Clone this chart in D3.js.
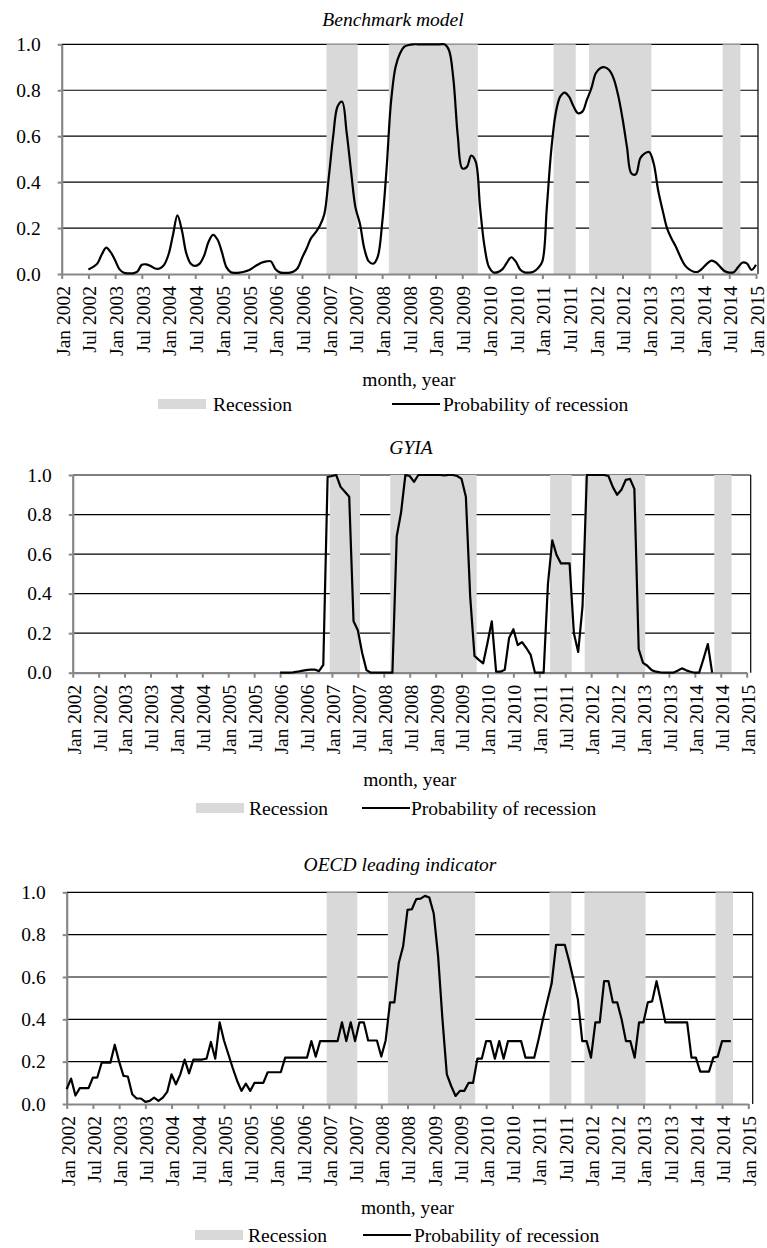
<!DOCTYPE html>
<html>
<head>
<meta charset="utf-8">
<script src="https://cdn.jsdelivr.net/npm/d3@7/dist/d3.min.js"></script>
<style>
  html, body { margin: 0; padding: 0; background: #ffffff; }
  svg { display: block; }
  text { font-family: "Liberation Serif", "DejaVu Serif", serif; fill: #000; }
</style>
</head>
<body>
<svg id="chart" width="767" height="1248"></svg>
<script>
// Month index 0 = Jan 2002, 156 = Jan 2015
const tickMonths = d3.range(0, 157, 6);
const tickLabels = [
  "Jan 2002", "Jul 2002", "Jan 2003", "Jul 2003", "Jan 2004", "Jul 2004",
  "Jan 2005", "Jul 2005", "Jan 2006", "Jul 2006", "Jan 2007", "Jul 2007",
  "Jan 2008", "Jul 2008", "Jan 2009", "Jul 2009", "Jan 2010", "Jul 2010",
  "Jan 2011", "Jul 2011", "Jan 2012", "Jul 2012", "Jan 2013", "Jul 2013",
  "Jan 2014", "Jul 2014", "Jan 2015"
];
const yTicks = [0, 0.2, 0.4, 0.6, 0.8, 1.0];

// Recession periods (first and last month index, inclusive)
const recessionStart = [60, 74, 111, 119, 149];
const recessionEnd   = [66, 93, 115, 132, 152];

// Benchmark model: monthly probability from Jul 2002
const benchmarkStart = 6;
const benchmarkProb = [
  0.02, 0.03, 0.045, 0.085, 0.115, 0.095, 0.06, 0.02, 0.005, 0.003,
  0.003, 0.01, 0.04, 0.042, 0.035, 0.024, 0.024, 0.04, 0.085, 0.17,
  0.255, 0.19, 0.09, 0.045, 0.035, 0.045, 0.08, 0.14, 0.17, 0.15,
  0.095, 0.03, 0.008, 0.005, 0.006, 0.01, 0.016, 0.028, 0.04, 0.05,
  0.055, 0.055, 0.022, 0.007, 0.005, 0.005, 0.01, 0.025, 0.07, 0.11,
  0.155, 0.18, 0.21, 0.26, 0.42, 0.6, 0.73, 0.75, 0.62, 0.45,
  0.29, 0.22, 0.11, 0.055, 0.045, 0.075, 0.22, 0.46, 0.75, 0.9,
  0.96, 0.99, 0.997, 1.0, 1.0, 1.0, 1.0, 1.0, 1.0, 1.0,
  1.0, 0.975, 0.85, 0.6, 0.46, 0.465, 0.515, 0.49, 0.29, 0.12,
  0.03, 0.007, 0.008, 0.02, 0.048, 0.073, 0.055, 0.02, 0.007, 0.006,
  0.01, 0.025, 0.055, 0.29, 0.54, 0.7, 0.772, 0.79, 0.772, 0.73,
  0.7, 0.707, 0.758, 0.808, 0.874, 0.896, 0.9, 0.888, 0.852, 0.78,
  0.678, 0.554, 0.438, 0.434, 0.504, 0.525, 0.531, 0.482, 0.366, 0.279,
  0.2, 0.155, 0.119, 0.075, 0.039, 0.02, 0.01, 0.01, 0.025, 0.045,
  0.058, 0.05, 0.03, 0.012, 0.006, 0.008, 0.03, 0.05, 0.045, 0.018,
  0.04
];

// GYIA: monthly probability from Jan 2006
const gyiaStart = 48;
const gyiaProb = [
  0, 0, 0, 0.002, 0.005, 0.009, 0.013, 0.016, 0.016, 0.008,
  0.04, 0.99, 0.995, 1.0, 0.94, 0.915, 0.89, 0.26, 0.215, 0.1,
  0.013, 0, 0, 0, 0, 0, 0, 0.69, 0.81, 1.0,
  0.995, 0.965, 1.0, 1.0, 1.0, 1.0, 1.0, 1.0, 0.998, 1.0,
  1.0, 0.995, 0.98, 0.89, 0.385, 0.085, 0.065, 0.047, 0.15, 0.26,
  0.005, 0.005, 0.015, 0.175, 0.22, 0.14, 0.155, 0.125, 0.09, 0,
  0, 0, 0.45, 0.67, 0.595, 0.553, 0.553, 0.553, 0.2, 0.105,
  0.335, 1.0, 1.0, 1.0, 1.0, 1.0, 0.995, 0.94, 0.9, 0.925,
  0.975, 0.98, 0.93, 0.12, 0.05, 0.035, 0.013, 0.005, 0.002, 0,
  0, 0, 0.01, 0.022, 0.012, 0.005, 0, 0, 0.07, 0.145,
  0
];

// OECD leading indicator: monthly probability from Jan 2002
const oecdStart = 0;
const oecdProb = [
  0.07, 0.12, 0.04, 0.075, 0.075, 0.075, 0.125, 0.125, 0.195, 0.195,
  0.195, 0.28, 0.2, 0.133, 0.13, 0.046, 0.026, 0.026, 0.01, 0.015,
  0.03, 0.015, 0.03, 0.057, 0.14, 0.093, 0.14, 0.21, 0.145, 0.21,
  0.21, 0.21, 0.214, 0.293, 0.214, 0.386, 0.3, 0.235, 0.17, 0.11,
  0.062, 0.096, 0.062, 0.1, 0.1, 0.1, 0.15, 0.15, 0.15, 0.15,
  0.219, 0.219, 0.219, 0.219, 0.219, 0.219, 0.297, 0.224, 0.297, 0.297,
  0.297, 0.297, 0.297, 0.386, 0.297, 0.386, 0.297, 0.386, 0.386, 0.3,
  0.3, 0.3, 0.224, 0.3, 0.48, 0.48, 0.666, 0.745, 0.917, 0.92,
  0.968, 0.97, 0.983, 0.975, 0.9, 0.7, 0.4, 0.14, 0.085, 0.038,
  0.062, 0.062, 0.1, 0.1, 0.214, 0.214, 0.297, 0.297, 0.214, 0.297,
  0.214, 0.297, 0.297, 0.297, 0.297, 0.219, 0.219, 0.219, 0.305, 0.4,
  0.485, 0.57, 0.752, 0.752, 0.752, 0.674, 0.587, 0.493, 0.297, 0.297,
  0.219, 0.386, 0.386, 0.58, 0.58, 0.48, 0.48, 0.4, 0.297, 0.297,
  0.219, 0.386, 0.386, 0.48, 0.485, 0.58, 0.485, 0.386, 0.386, 0.386,
  0.386, 0.386, 0.386, 0.219, 0.219, 0.153, 0.153, 0.153, 0.219, 0.224,
  0.297, 0.297, 0.297
];

const panels = [
  { title: "Benchmark model", start: benchmarkStart, values: benchmarkProb, smooth: true,
    left: 61.7, right: 756, border: 758, top: 44.3, bottom: 274, titleX: 393, titleY: 26,
    axisTitleY: 386, legendY: 404, boxX: 158, boxText: 213, lineX: 392, lineText: 443 },
  { title: "GYIA", start: gyiaStart, values: gyiaProb, smooth: false,
    left: 72.7, right: 746.7, border: 750.7, top: 475, bottom: 672.7, titleX: 411, titleY: 454,
    axisTitleY: 786, legendY: 808, boxX: 196, boxText: 249, lineX: 362, lineText: 411 },
  { title: "OECD leading indicator", start: oecdStart, values: oecdProb, smooth: false,
    left: 66.7, right: 748.3, border: 752.7, top: 892.3, bottom: 1104, titleX: 400, titleY: 871,
    axisTitleY: 1214, legendY: 1235, boxX: 195, boxText: 248, lineX: 363, lineText: 414 }
];

const FAMILY = '"Liberation Serif", "DejaVu Serif", serif';
const svg = d3.select("#chart");
svg.append("rect").attr("width", 767).attr("height", 1248).attr("fill", "#fff");

const AXIS_GREY = "#878787";
const BAND_GREY = "#d9d9d9";
const FONT = 19.5;

panels.forEach(p => {
  const g = svg.append("g").attr("font-family", FAMILY);
  const x = d3.scaleLinear().domain([0, 156]).range([p.left, p.right]);
  const y = d3.scaleLinear().domain([0, 1]).range([p.bottom, p.top]);

  // horizontal gridlines
  g.append("g").selectAll("line")
    .data(yTicks.filter(v => v > 0))
    .join("line")
    .attr("x1", p.left).attr("x2", p.border)
    .attr("y1", d => y(d)).attr("y2", d => y(d))
    .attr("stroke", "#000").attr("stroke-width", 1.2);

  // recession bands
  const bands = recessionStart.map((s, i) => ({ s, e: recessionEnd[i] }));
  g.append("g").selectAll("rect")
    .data(bands)
    .join("rect")
    .attr("x", d => x(d.s - 0.5))
    .attr("width", d => x(d.e + 0.5) - x(d.s - 0.5))
    .attr("y", y(1))
    .attr("height", y(0) - y(1))
    .attr("fill", BAND_GREY);

  // right border
  g.append("line")
    .attr("x1", p.border).attr("x2", p.border)
    .attr("y1", y(1)).attr("y2", y(0))
    .attr("stroke", "#000").attr("stroke-width", 1.2);

  // y axis
  const yAxis = d3.axisLeft(y).tickValues(yTicks).tickFormat(d3.format(".1f"))
    .tickSize(4).tickPadding(17).tickSizeOuter(0);
  const ya = g.append("g").attr("transform", `translate(${p.left},0)`).call(yAxis)
    .attr("font-family", FAMILY).attr("font-size", FONT);
  ya.select(".domain").attr("stroke", AXIS_GREY).attr("stroke-width", 2.2);
  ya.selectAll(".tick line").attr("stroke", AXIS_GREY).attr("stroke-width", 2);
  ya.selectAll(".tick text").attr("fill", "#000");

  // x axis
  const xAxis = d3.axisBottom(x).tickValues(tickMonths)
    .tickFormat((d, i) => tickLabels[i]).tickSize(5).tickSizeOuter(0);
  const xa = g.append("g").attr("transform", `translate(0,${p.bottom})`).call(xAxis)
    .attr("font-family", FAMILY).attr("font-size", FONT);
  xa.select(".domain").attr("stroke", AXIS_GREY).attr("stroke-width", 2.2);
  xa.selectAll(".tick line").attr("stroke", AXIS_GREY).attr("stroke-width", 2);
  xa.selectAll(".tick text")
    .attr("fill", "#000")
    .attr("text-anchor", "end")
    .attr("transform", "translate(0,12) rotate(-90)")
    .attr("x", 0).attr("y", 0).attr("dy", "0.38em");

  // probability line
  const pts = p.values.map((v, i) => [p.start + i, v]);
  const line = d3.line()
    .x(d => x(d[0])).y(d => y(d[1]))
    .curve(p.smooth ? d3.curveCatmullRom.alpha(0.5) : d3.curveLinear);
  g.append("path").datum(pts)
    .attr("d", line)
    .attr("fill", "none").attr("stroke", "#000")
    .attr("stroke-width", 2.2).attr("stroke-linejoin", "round");

  // titles
  g.append("text").attr("x", p.titleX).attr("y", p.titleY)
    .attr("text-anchor", "middle").attr("font-style", "italic")
    .attr("font-size", FONT).text(p.title);
  g.append("text").attr("x", (p.left + p.right) / 2).attr("y", p.axisTitleY)
    .attr("text-anchor", "middle").attr("font-size", FONT).text("month, year");

  // legend
  const lg = g.append("g");
  lg.append("rect").attr("x", p.boxX).attr("y", p.legendY - 5)
    .attr("width", 48).attr("height", 10).attr("fill", BAND_GREY);
  lg.append("text").attr("x", p.boxText).attr("y", p.legendY)
    .attr("dy", "0.35em").attr("font-size", FONT).text("Recession");
  lg.append("line").attr("x1", p.lineX).attr("x2", p.lineX + 48)
    .attr("y1", p.legendY).attr("y2", p.legendY)
    .attr("stroke", "#000").attr("stroke-width", 2.2);
  lg.append("text").attr("x", p.lineText).attr("y", p.legendY)
    .attr("dy", "0.35em").attr("font-size", FONT).text("Probability of recession");
});
</script>
</body>
</html>
